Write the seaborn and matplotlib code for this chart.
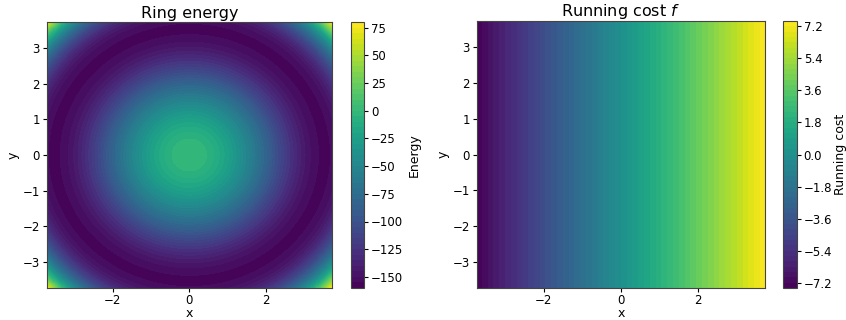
import numpy as np
import matplotlib
matplotlib.use("Agg")
import matplotlib.pyplot as plt
import seaborn as sns

sns.set_style("ticks")
plt.rcParams['font.family'] = ['DejaVu Sans']
plt.rcParams.update({
    'text.color': 'black', 'axes.labelcolor': 'black',
    'xtick.color': 'black', 'ytick.color': 'black',
    'xtick.labelcolor': 'black', 'ytick.labelcolor': 'black',
})

# grid extent and field parameters
half_width = 3.73
n_grid = 300
ring_quartic = 1.0      # E = a r^4 - b r^2
ring_quadratic = 25.0
cost_slope = 2.0        # f = k x
energy_levels_n = 50
cost_levels = np.linspace(-7.5, 7.5, 51)
energy_ticks = [-150, -125, -100, -75, -50, -25, 0, 25, 50, 75]
cost_ticks = [-7.2, -5.4, -3.6, -1.8, 0.0, 1.8, 3.6, 5.4, 7.2]
axis_ticks = [-3, -2, -1, 0, 1, 2, 3]

x = np.linspace(-half_width, half_width, n_grid)
y = np.linspace(-half_width, half_width, n_grid)
X, Y = np.meshgrid(x, y)
R2 = X**2 + Y**2
E = ring_quartic * R2**2 - ring_quadratic * R2
F = cost_slope * X

W, H = 846, 320
fig = plt.figure(figsize=(W/100, H/100), dpi=100)

def fr(x0, y0, x1, y1):
    return [x0/W, 1 - y1/H, (x1-x0)/W, (y1-y0)/H]

ax1 = fig.add_axes(fr(46.7, 22, 332, 288))
cax1 = fig.add_axes(fr(350.7, 22, 364, 288))
ax2 = fig.add_axes(fr(476.7, 21, 765, 288))
cax2 = fig.add_axes(fr(783.3, 21, 796.7, 288))

cs1 = ax1.contourf(X, Y, E, levels=energy_levels_n, cmap="viridis")
cb1 = fig.colorbar(cs1, cax=cax1)
cb1.set_label("Energy", fontsize=9, labelpad=3)
cb1.set_ticks(energy_ticks)

cs2 = ax2.contourf(X, Y, F, levels=cost_levels, cmap="viridis")
cb2 = fig.colorbar(cs2, cax=cax2)
cb2.set_label("Running cost", fontsize=9, labelpad=1)
cb2.set_ticks(cost_ticks)
cb2.ax.set_yticklabels([f"{t:.1f}".replace("-", "\u2212") for t in cost_ticks])

ax1.set_title("Ring energy", fontsize=11.5, pad=3)
ax2.set_title("Running cost $f$", fontsize=11.5, pad=3)
for ax in (ax1, ax2):
    ax.set_xlabel("x", fontsize=9, labelpad=0)
    ax.set_ylabel("y", fontsize=9, labelpad=2)
    ax.set_xticks([-2, 0, 2])
    ax.set_yticks(axis_ticks)
    ax.tick_params(labelsize=8.5, length=3, pad=2)
    ax.tick_params(axis='x', pad=1.5)
    for s in ax.spines.values():
        s.set_color("#444444")
for c in (cax1, cax2):
    c.tick_params(labelsize=8.5, length=3, pad=2)
cb1.outline.set_edgecolor("#444444")
cb2.outline.set_edgecolor("#444444")

fig.savefig("out.png", dpi=100)
